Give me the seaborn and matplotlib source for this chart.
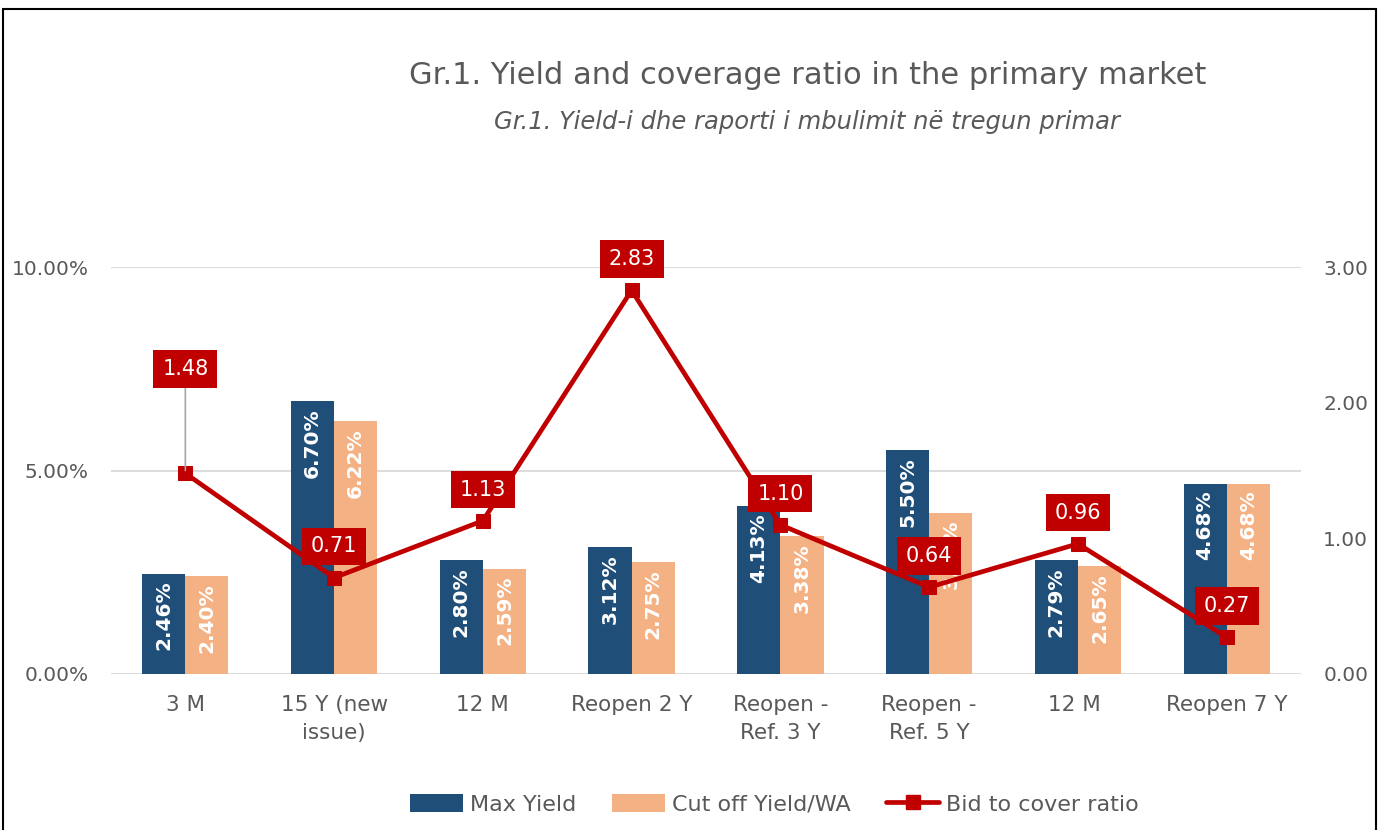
import numpy as np
import pandas as pd
import matplotlib
matplotlib.use("Agg")
import matplotlib.pyplot as plt
import seaborn as sns
from matplotlib.patches import Patch, Rectangle
from matplotlib.lines import Line2D
from matplotlib.ticker import FuncFormatter

categories = ["3 M", "15 Y (new\nissue)", "12 M", "Reopen 2 Y", "Reopen -\nRef. 3 Y",
              "Reopen -\nRef. 5 Y", "12 M ", "Reopen 7 Y"]
max_yield = [2.46, 6.70, 2.80, 3.12, 4.13, 5.50, 2.79, 4.68]
cutoff_yield = [2.40, 6.22, 2.59, 2.75, 3.38, 3.96, 2.65, 4.68]
bid_to_cover = [1.48, 0.71, 1.13, 2.83, 1.10, 0.64, 0.96, 0.27]
series_names = ["Max Yield", "Cut off Yield/WA"]
line_name = "Bid to cover ratio"
title = "Gr.1. Yield and coverage ratio in the primary market"
subtitle = "Gr.1. Yield-i dhe raporti i mbulimit në tregun primar"

C_BLUE = "#1F4E79"
C_ORANGE = "#F4B183"
C_RED = "#C00000"
C_TEXT = "#595959"
C_GRID = "#D9D9D9"

sns.set_theme(style="white")
plt.rcParams["font.family"] = ["DejaVu Sans"]

df = pd.DataFrame({
    "cat": categories * 2,
    "value": max_yield + cutoff_yield,
    "series": [series_names[0]] * len(categories) + [series_names[1]] * len(categories),
})

fig = plt.figure(figsize=(13.8, 8.3), dpi=100)
ax = fig.add_axes([0.0804, 0.188, 0.8624, 0.490])

sns.barplot(data=df, x="cat", y="value", hue="series", order=categories,
            hue_order=series_names, palette=[C_BLUE, C_ORANGE], width=0.58,
            gap=0, dodge=True, saturation=1, ax=ax, legend=False, zorder=2,
            linewidth=0, edgecolor="none")

ax.set_xlim(-0.5, len(categories) - 0.5)
ax.set_ylim(0, 10)
ax.set_yticks([0, 5, 10])
ax.yaxis.set_major_formatter(FuncFormatter(lambda v, p: f"{v:.2f}%"))
ax.grid(axis="y", color=C_GRID, lw=1.3, zorder=0)
ax.grid(axis="x", visible=False)
ax.set_axisbelow(True)
for s in ax.spines.values():
    s.set_visible(False)
ax.set_xlabel("")
ax.set_ylabel("")
ax.tick_params(axis="y", length=0, pad=16, labelsize=14.5, labelcolor=C_TEXT)
ax.tick_params(axis="x", length=0, pad=15, labelsize=15.5, labelcolor=C_TEXT)
ax.set_xticks(range(len(categories)))
ax.set_xticklabels(categories, linespacing=1.5)

# bar value labels (inside end, rotated)
for cont, vals in zip(ax.containers, [max_yield, cutoff_yield]):
    for bar, v in zip(cont, vals):
        xc = bar.get_x() + bar.get_width() / 2
        ax.annotate(f"{v:.2f}%", xy=(xc, v), xytext=(0, -5), textcoords="offset points",
                    rotation=90, ha="center", va="top", color="white",
                    fontsize=14.5, fontweight="bold", zorder=3)

# line on secondary axis
ax2 = ax.twinx()
xpos = np.arange(len(categories))
sns.lineplot(x=xpos, y=bid_to_cover, ax=ax2, color=C_RED, lw=3.4, marker="s",
             markersize=10, markeredgecolor=C_RED, legend=False)
ax2.set_ylim(0, 3)
ax2.set_yticks([0, 1, 2, 3])
ax2.yaxis.set_major_formatter(FuncFormatter(lambda v, p: f"{v:.2f}"))
ax2.tick_params(axis="y", length=0, pad=16, labelsize=14.5, labelcolor=C_TEXT)
for s in ax2.spines.values():
    s.set_visible(False)
ax2.grid(False)
ax2.set_ylabel("")
ax2.set_xlim(-0.5, len(categories) - 0.5)

box = dict(boxstyle="square,pad=0.42", fc=C_RED, ec="none")
for i, v in enumerate(bid_to_cover):
    if i == 0:
        ax2.annotate(f"{v:.2f}", xy=(i, v), xytext=(0, 75), textcoords="offset points",
                     ha="center", va="center", color="white", fontsize=15, bbox=box,
                     arrowprops=dict(arrowstyle="-", color="#A6A6A6", lw=1.2,
                                     shrinkA=0, shrinkB=2),
                     annotation_clip=False, zorder=5)
    else:
        ax2.annotate(f"{v:.2f}", xy=(i, v), xytext=(0, 22.5), textcoords="offset points",
                     ha="center", va="center", color="white", fontsize=15, bbox=box,
                     annotation_clip=False, zorder=5)

# titles
fig.text(0.585, 0.909, title, ha="center", va="center", fontsize=22, color=C_TEXT)
fig.text(0.585, 0.853, subtitle, ha="center", va="center", fontsize=17.5,
         color=C_TEXT, style="italic")

# legend
handles = [Patch(facecolor=C_BLUE, edgecolor="none"),
           Patch(facecolor=C_ORANGE, edgecolor="none"),
           Line2D([0], [0], color=C_RED, lw=3.4, marker="s", markersize=10)]
fig.legend(handles, series_names + [line_name], loc="center", bbox_to_anchor=(0.561, 0.031),
           ncol=3, frameon=False, fontsize=16, labelcolor=C_TEXT, handlelength=2.4,
           handleheight=0.85, columnspacing=1.6, handletextpad=0.3)

# outer border
fig.patches.append(Rectangle((0.0022, -0.01), 0.995, 0.999, fill=False,
                             ec="black", lw=1.5, transform=fig.transFigure, figure=fig))

fig.savefig("out.png", dpi=100)
